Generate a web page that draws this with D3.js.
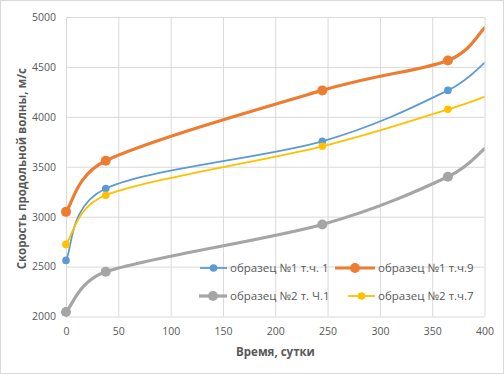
<!DOCTYPE html>
<html><head><meta charset="utf-8">
<script src="https://cdn.jsdelivr.net/npm/d3@7"></script>
<style>body{margin:0;background:#fff}svg{display:block}</style>
</head><body><svg id="c" width="504" height="374"></svg>
<script>
const days = [0, 38, 245, 365, 400];
const s1 = [2562, 3282, 3755, 4265, 4540];   // образец №1 т.ч. 1
const s9 = [3048, 3560, 4265, 4565, 4890];   // образец №1 т.ч.9
const g1 = [2045, 2448, 2922, 3400, 3680];   // образец №2 т. Ч.1
const y7 = [2722, 3215, 3705, 4075, 4200];   // образец №2  т.ч.7
const xTicks = [0, 50, 100, 150, 200, 250, 300, 350, 400];
const yTicks = [2000, 2500, 3000, 3500, 4000, 4500, 5000];
const names = ["образец №1 т.ч. 1", "образец №1 т.ч.9", "образец №2 т. Ч.1", "образец №2  т.ч.7"];
const markerCount = 4;

const series = [
  {name: names[0], vals: s1, color: "#5B9BD5", w: 1.8, r: 3.8},
  {name: names[1], vals: s9, color: "#ED7D31", w: 3.2, r: 5},
  {name: names[2], vals: g1, color: "#A5A5A5", w: 3.2, r: 5},
  {name: names[3], vals: y7, color: "#FFC000", w: 1.8, r: 3.8}
];

// Spreadsheet-style smoothed curve (cardinal Bezier with control length limited to half a segment)
function SmoothCurve(context) { this._context = context; }
SmoothCurve.prototype = {
  areaStart() { this._line = 0; }, areaEnd() { this._line = NaN; },
  lineStart() { this._pts = []; },
  point(px, py) { this._pts.push([+px, +py]); },
  lineEnd() {
    const p = this._pts, c = this._context, n = p.length;
    if (!n) return;
    const dist = (a, b) => Math.hypot(a[0] - b[0], a[1] - b[1]);
    c.moveTo(p[0][0], p[0][1]);
    for (let i = 0; i < n - 1; i++) {
      const p0 = p[Math.max(i - 1, 0)], p1 = p[i], p2 = p[i + 1], p3 = p[Math.min(i + 2, n - 1)];
      const d12 = dist(p1, p2), d02 = dist(p0, p2), d13 = dist(p1, p3);
      let f1 = 1 / 6, f2 = 1 / 6;
      if (d02 / 6 >= d12 / 2 && d02 > 0) f1 = d12 / (2 * d02);
      if (d13 / 6 >= d12 / 2 && d13 > 0) f2 = d12 / (2 * d13);
      c.bezierCurveTo(
        p1[0] + (p2[0] - p0[0]) * f1, p1[1] + (p2[1] - p0[1]) * f1,
        p2[0] - (p3[0] - p1[0]) * f2, p2[1] - (p3[1] - p1[1]) * f2,
        p2[0], p2[1]);
    }
  }
};
const curveSmooth = ctx => new SmoothCurve(ctx);

const svg = d3.select("#c");
const font = "'Open Sans', sans-serif";
const L = 66, R = 484.5, T = 17, B = 316.5;
const x = d3.scaleLinear().domain([0, 400]).range([L, R]);
const y = d3.scaleLinear().domain([2000, 5000]).range([B, T]);

svg.append("rect").attr("x", 0.5).attr("y", 0.5).attr("width", 503).attr("height", 373)
  .attr("fill", "#fff").attr("stroke", "#D9D9D9");

// gridlines
const gx = svg.append("g").attr("transform", `translate(0,${B})`)
  .call(d3.axisBottom(x).tickValues(xTicks).tickFormat(d3.format("d")).tickSize(-(B - T)).tickPadding(9));
const gy = svg.append("g").attr("transform", `translate(${L},0)`)
  .call(d3.axisLeft(y).tickValues(yTicks).tickFormat(d3.format("d")).tickSize(-(R - L)).tickPadding(10));
[gx, gy].forEach(g => {
  g.select(".domain").remove();
  g.selectAll("line").attr("stroke", "#D9D9D9").attr("stroke-width", 1);
  g.selectAll("text").attr("fill", "#595959").attr("font-family", font).attr("font-size", 10.5);
});
gx.selectAll("text").attr("dy", "0.9em");

svg.append("clipPath").attr("id", "clip").append("rect")
  .attr("x", L - 8).attr("y", T - 2).attr("width", R - L + 8).attr("height", B - T + 10);

const line = d3.line().x((d, i) => x(days[i])).y(d => y(d)).curve(curveSmooth);
const plot = svg.append("g").attr("clip-path", "url(#clip)");
series.forEach(s => {
  plot.append("path").attr("d", line(s.vals)).attr("fill", "none")
    .attr("stroke", s.color).attr("stroke-width", s.w).attr("stroke-linecap", "round");
});
series.forEach(s => {
  plot.selectAll(null).data(s.vals.slice(0, markerCount)).join("circle")
    .attr("cx", (d, i) => x(days[i])).attr("cy", d => y(d)).attr("r", s.r).attr("fill", s.color);
});

// legend: [line start, line end, text x, y]
const legPos = [[200, 227, 230, 268], [335, 375, 378, 268], [199, 227, 230, 296], [348, 375, 378, 296]];
series.forEach((s, i) => {
  const [a, b, tx, ly] = legPos[i];
  const g = svg.append("g");
  g.append("line").attr("x1", a).attr("x2", b).attr("y1", ly).attr("y2", ly)
    .attr("stroke", s.color).attr("stroke-width", s.w);
  g.append("circle").attr("cx", (a + b) / 2).attr("cy", ly).attr("r", s.r).attr("fill", s.color);
  g.append("text").attr("x", tx).attr("y", ly).attr("dy", "0.35em")
    .attr("fill", "#595959").attr("font-family", font).attr("font-size", 11.5).text(s.name);
});

// axis titles
svg.append("text").attr("x", 275.5).attr("y", 352).attr("dy", "0.35em").attr("text-anchor", "middle")
  .attr("fill", "#595959").attr("font-family", font).attr("font-size", 11.5).attr("font-weight", "bold")
  .text("Время, сутки");
svg.append("text").attr("transform", `translate(22,${(T + B) / 2 + 2}) rotate(-90)`).attr("dy", "0.35em").attr("text-anchor", "middle")
  .attr("fill", "#595959").attr("font-family", font).attr("font-size", 11.5).attr("font-weight", "bold")
  .text("Скорость продольной волны, м/с");
</script></body></html>
